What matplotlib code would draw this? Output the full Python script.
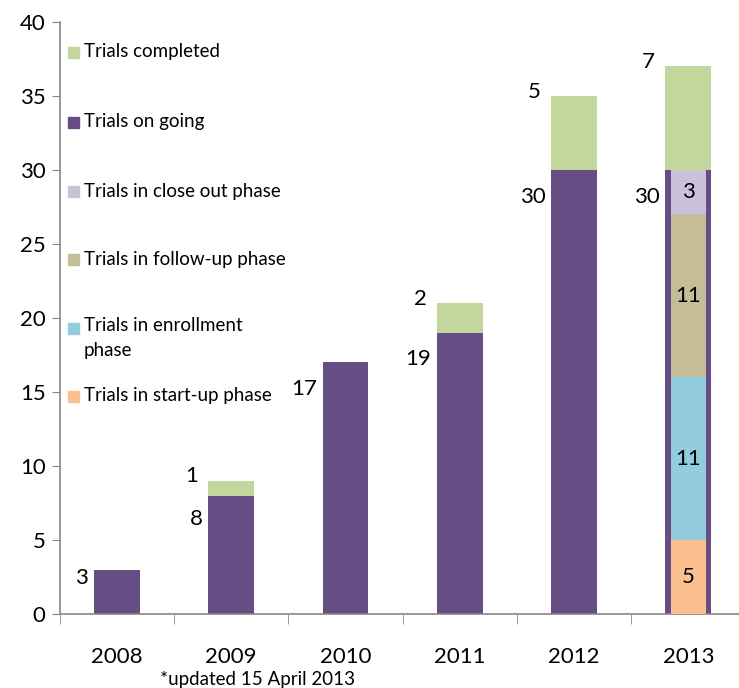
import numpy as np
import matplotlib
matplotlib.use("Agg")
import matplotlib.pyplot as plt
from matplotlib.patches import Rectangle

plt.rcParams['font.family'] = ['Lato', 'DejaVu Sans']

# data
years = ['2008', '2009', '2010', '2011', '2012', '2013']
ongoing = [3, 8, 17, 19, 30, 30]
completed = [0, 1, 0, 2, 5, 7]
# 2013 breakdown of the on-going trials, bottom to top
phase_names = ['Trials in start-up phase', 'Trials in enrollment\nphase',
               'Trials in follow-up phase', 'Trials in close out phase']
phase_values = [5, 11, 11, 3]

c_purple = '#664E85'
c_green = '#C3D69B'
phase_colors = ['#FAC090', '#93CDDD', '#C4BD97', '#CCC1DA']
grey = '#868686'

fig = plt.figure(figsize=(7.39, 6.88), dpi=100)
ax = fig.add_axes([0.0807, 0.1076, 0.928, 0.8604])

x = np.arange(len(years))
w = 0.4
ax.bar(x, ongoing, w, color=c_purple, zorder=2)
ax.bar(x, completed, w, bottom=ongoing, color=c_green, zorder=2)

# stacked phases inside the 2013 bar
bottom = 0
for v, col in zip(phase_values, phase_colors):
    ax.bar(x[-1], v, 0.31, bottom=bottom, color=col, zorder=3)
    ax.text(x[-1], bottom + v / 2, str(v), ha='center', va='center', fontsize=16, zorder=4)
    bottom += v

# value labels to the left of the bars
for xi, o, c in zip(x, ongoing, completed):
    ax.text(xi - w / 2 - 0.05, max(o - 1.8, o * 0.8), str(o), ha='right', va='center', fontsize=16)
    if c:
        ax.text(xi - w / 2 - 0.09, o + c + 0.3, str(c), ha='right', va='center', fontsize=16)

ax.set_ylim(0, 40)
ax.set_xlim(-0.5, len(years) - 0.5)
ax.set_yticks(range(0, 41, 5))
ax.set_xticks(x)
ax.set_xticklabels(years)
ax.set_xticks(np.arange(-0.5, len(years), 1), minor=True)
ax.tick_params(axis='x', which='major', length=0, pad=24, labelsize=16)
ax.tick_params(axis='x', which='minor', length=7, color=grey, direction='out')
ax.tick_params(axis='y', length=6, color=grey, labelsize=16, pad=4)
for s in ['top', 'right']:
    ax.spines[s].set_visible(False)
for s in ['left', 'bottom']:
    ax.spines[s].set_color(grey)
    ax.spines[s].set_linewidth(1.2)

# legend drawn by hand, Excel style (pixel positions from the top)
legend_names = ['Trials completed', 'Trials on going'] + phase_names[::-1]
legend_colors = [c_green, c_purple] + phase_colors[::-1]
legend_y = [52, 122, 191, 259, 328, 396]
W, H = 739, 688
for name, col, yy in zip(legend_names, legend_colors, legend_y):
    fig.patches.append(Rectangle((68 / W, (H - yy - 6) / H), 11 / W, 11 / H,
                                 transform=fig.transFigure, color=col))
    if '\n' in name:
        fig.text(84 / W, (H - yy + 11) / H, name, ha='left', va='top',
                 fontsize=13.5, linespacing=1.55)
    else:
        fig.text(84 / W, (H - yy) / H, name, ha='left', va='center', fontsize=13.5)

fig.text(258 / W, (H - 680) / H, '*updated 15 April 2013', ha='center', va='center', fontsize=13.5)

fig.savefig('out.png', dpi=100)
